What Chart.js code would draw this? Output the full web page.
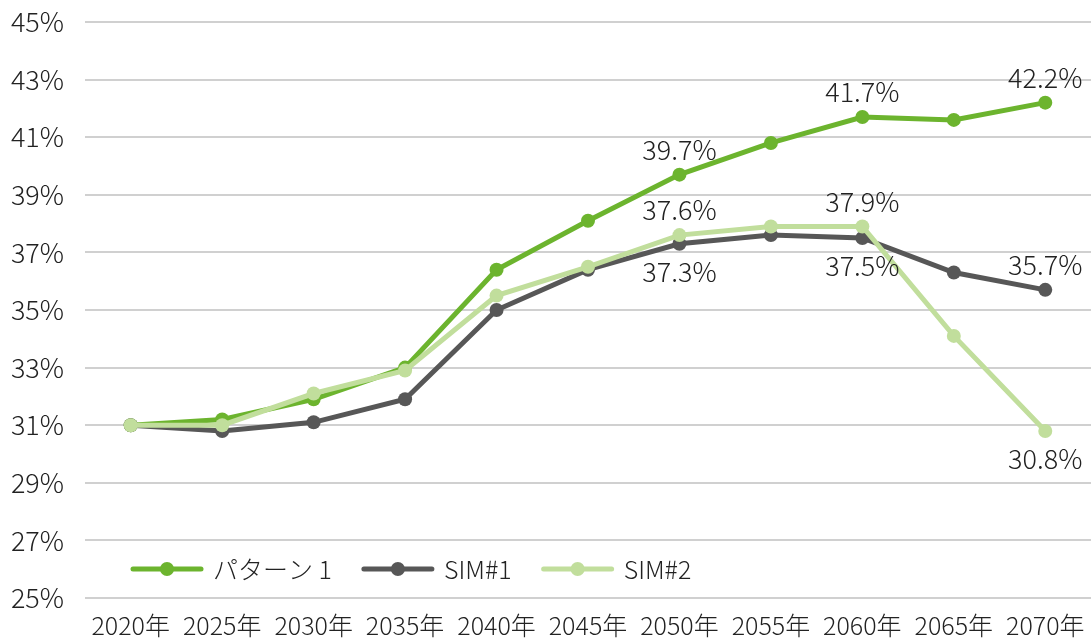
<!DOCTYPE html>
<html>
<head>
<meta charset="utf-8">
<script src="https://cdn.jsdelivr.net/npm/chart.js@4.4.1/dist/chart.umd.min.js"></script>
<style>
  html, body { margin: 0; padding: 0; background: #fff; overflow: hidden; }
  #wrap { width: 1092px; height: 639px; overflow: hidden; }
  canvas { display: block; }
</style>
</head>
<body>
<div id="wrap"><canvas id="rateChart" width="1098" height="639"></canvas></div>
<script>
const years = ['2020年', '2025年', '2030年', '2035年', '2040年', '2045年', '2050年', '2055年', '2060年', '2065年', '2070年'];
const pattern1 = [31.0, 31.2, 31.9, 33.0, 36.4, 38.1, 39.7, 40.8, 41.7, 41.6, 42.2];
const sim1 = [31.0, 30.8, 31.1, 31.9, 35.0, 36.4, 37.3, 37.6, 37.5, 36.3, 35.7];
const sim2 = [31.0, 31.0, 32.1, 32.9, 35.5, 36.5, 37.6, 37.9, 37.9, 34.1, 30.8];
const seriesNames = ['パターン 1', 'SIM#1', 'SIM#2'];
const yMin = 25, yMax = 45, yStep = 2;

// which points get a value label, and on which side
const labelSpots = [
    { 6: 'up', 8: 'up', 10: 'up' },
    { 6: 'down', 8: 'down', 10: 'up' },
    { 6: 'up', 8: 'up', 10: 'down' }
];

const FONT = '"Noto Sans CJK JP", "Noto Sans", sans-serif';
const TEXT = '#222222';

const valueLabels = {
    id: 'valueLabels',
    afterDatasetsDraw(chart) {
        const ctx = chart.ctx;
        ctx.save();
        ctx.font = '300 27px ' + FONT;
        ctx.fillStyle = TEXT;
        ctx.textAlign = 'center';
        ctx.textBaseline = 'middle';
        chart.data.datasets.forEach((ds, di) => {
            const meta = chart.getDatasetMeta(di);
            Object.keys(labelSpots[di]).forEach(k => {
                const pt = meta.data[k];
                const dy = labelSpots[di][k] === 'up' ? -25 : 28;
                ctx.fillText(ds.data[k].toFixed(1) + '%', pt.x, pt.y + dy);
            });
        });
        ctx.restore();
    }
};

const innerLegend = {
    id: 'innerLegend',
    afterDraw(chart) {
        const ctx = chart.ctx;
        const area = chart.chartArea;
        const y = area.bottom - 29;
        let x = area.left + 48;
        ctx.save();
        ctx.font = '300 25px ' + FONT;
        ctx.textBaseline = 'middle';
        ctx.textAlign = 'left';
        chart.data.datasets.forEach(ds => {
            ctx.strokeStyle = ds.borderColor;
            ctx.lineWidth = 5;
            ctx.lineCap = 'round';
            ctx.beginPath();
            ctx.moveTo(x, y);
            ctx.lineTo(x + 68, y);
            ctx.stroke();
            ctx.fillStyle = ds.borderColor;
            ctx.beginPath();
            ctx.arc(x + 34, y, 7, 0, Math.PI * 2);
            ctx.fill();
            ctx.fillStyle = TEXT;
            ctx.fillText(ds.label, x + 80, y);
            x += 80 + ctx.measureText(ds.label).width + 32;
        });
        ctx.restore();
    }
};

function line(label, data, color, order) {
    return {
        label: label,
        data: data,
        borderColor: color,
        backgroundColor: color,
        borderWidth: 5,
        pointRadius: 7,
        pointHoverRadius: 7,
        pointBorderWidth: 0,
        tension: 0,
        order: order
    };
}

new Chart(document.getElementById('rateChart'), {
    type: 'line',
    data: {
        labels: years,
        datasets: [
            line(seriesNames[0], pattern1, '#6cb42e', 2),
            line(seriesNames[1], sim1, '#575757', 1),
            line(seriesNames[2], sim2, '#c1de9c', 0)
        ]
    },
    options: {
        responsive: false,
        animation: false,
        layout: { padding: { top: 22, right: 0, left: 0, bottom: -6 } },
        plugins: {
            legend: { display: false },
            tooltip: { enabled: false }
        },
        scales: {
            x: {
                offset: true,
                afterFit(scale) { scale.paddingLeft = 0; scale.paddingRight = 0; },
                grid: { display: false },
                border: { display: false },
                ticks: {
                    color: TEXT,
                    font: { family: FONT, size: 25, weight: 300, lineHeight: 1 },
                    padding: 7,
                    maxRotation: 0,
                    autoSkip: false
                }
            },
            y: {
                min: yMin,
                max: yMax,
                afterFit(scale) {
                    scale.width = 85;
                    scale.paddingTop = 0;
                    scale.paddingBottom = 0;
                },
                grid: { color: '#d0d0d0', lineWidth: 2, drawTicks: false },
                border: { display: false },
                ticks: {
                    stepSize: yStep,
                    color: TEXT,
                    padding: 21,
                    font: { family: FONT, size: 27, weight: 300 },
                    callback: v => v + '%'
                }
            }
        }
    },
    plugins: [valueLabels, innerLegend]
});
</script>
</body>
</html>
